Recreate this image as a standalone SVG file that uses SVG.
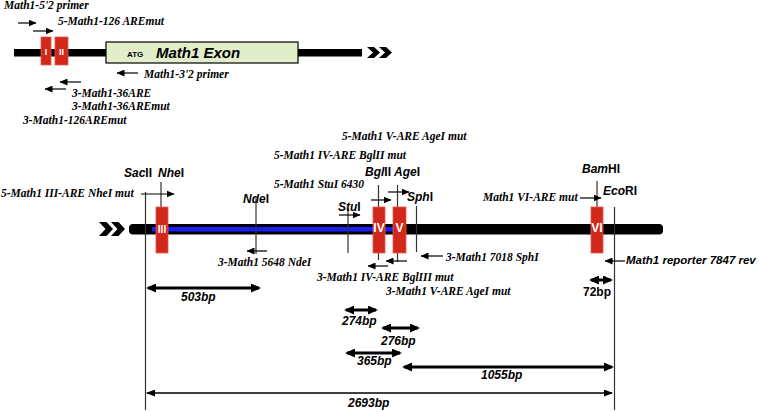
<svg xmlns="http://www.w3.org/2000/svg" width="759" height="412" viewBox="0 0 759 412">
<style>
.pt{font-family:"Liberation Serif","Times New Roman",serif;font-weight:bold;font-style:italic;font-size:11.5px;fill:#000}
.re{font-family:"Liberation Sans",Arial,sans-serif;font-weight:bold;font-size:12px;fill:#000}
.it{font-style:italic}
.bp{font-family:"Liberation Sans",Arial,sans-serif;font-weight:bold;font-style:italic;font-size:12px;fill:#000}
.bx{fill:#d2281c;stroke:#e45a4e;stroke-width:0.8}
.bl{font-family:"Liberation Sans",Arial,sans-serif;font-weight:bold;fill:#fff;text-anchor:middle}
.pr{stroke:#000;stroke-width:1.2;fill:none;marker-end:url(#ah)}
.vl{stroke:#333;stroke-width:1.2}
.sz{stroke:#000;stroke-width:3;marker-start:url(#bh);marker-end:url(#bh)}
.tn{stroke:#000;stroke-width:1.4;marker-start:url(#th);marker-end:url(#th)}
</style>
<defs>
<marker id="ah" viewBox="0 0 8 7" refX="7.5" refY="3.5" markerWidth="8" markerHeight="7" markerUnits="userSpaceOnUse" orient="auto"><path d="M0,0L8,3.5L0,7z" fill="#000"/></marker>
<marker id="bh" viewBox="0 0 10 9" refX="8" refY="4.5" markerWidth="10" markerHeight="9" markerUnits="userSpaceOnUse" orient="auto-start-reverse"><path d="M0,0L10,4.5L0,9z" fill="#000"/></marker>
<marker id="th" viewBox="0 0 9 7" refX="8" refY="3.5" markerWidth="9" markerHeight="7" markerUnits="userSpaceOnUse" orient="auto-start-reverse"><path d="M0,0L9,3.5L0,7z" fill="#000"/></marker>
<path id="chev" d="M0,0H7L13,5.5L7,11H0L6,5.5Z" fill="#000"/>
</defs>

<g id="top-backbone">
<rect x="14" y="49" width="348" height="7.5" fill="#000"/>
<use href="#chev" x="367" y="47"/>
<use href="#chev" x="379" y="47"/>
</g>
<g id="exon">
<rect x="106" y="42" width="192" height="21" fill="#e2edca" stroke="#000" stroke-width="1.2"/>
<text x="127" y="57" style="font-family:'Liberation Sans',Arial,sans-serif;font-weight:bold;font-size:8px">ATG</text>
<text x="156" y="58" style="font-family:'Liberation Sans',Arial,sans-serif;font-weight:bold;font-style:italic;font-size:15px">Math1 Exon</text>
</g>
<g id="are-I"><rect class="bx" x="41" y="37" width="10" height="28"/><text class="bl" x="46" y="55" font-size="9">I</text></g>
<g id="are-II"><rect class="bx" x="55" y="37" width="13" height="28"/><text class="bl" x="61.5" y="55" font-size="9">II</text></g>

<g id="top-primers">
<text class="pt" x="4" y="9">Math1-5'2 primer</text>
<text class="pt" x="58" y="25">5-Math1-126 AREmut</text>
<text class="pt" x="144" y="78">Math1-3'2 primer</text>
<text class="pt" x="72" y="97">3-Math1-36ARE</text>
<text class="pt" x="72" y="110">3-Math1-36AREmut</text>
<text class="pt" x="23" y="124">3-Math1-126AREmut</text>
</g>

<g id="main-backbone">
<path d="M99,222H106.5L113,229L106.5,236H99L105.5,229Z" fill="#000"/>
<path d="M111,222H118.5L125,229L118.5,236H111L117.5,229Z" fill="#000"/>
<rect x="129" y="224" width="534" height="10.5" rx="4" fill="#000"/>
<rect x="152" y="227" width="241" height="4.5" fill="#1c1cf5"/>
</g>

<g id="connectors">
<line class="pr" x1="18" y1="23" x2="36" y2="23"/>
<line class="pr" x1="33" y1="31" x2="53" y2="31"/>
<line class="pr" x1="138" y1="73" x2="117" y2="73"/>
<line class="pr" x1="81" y1="82" x2="60" y2="82"/>
<line class="pr" x1="66" y1="89" x2="45" y2="89"/>
<line class="vl" x1="145.5" y1="192" x2="145.5" y2="410"/>
<line class="vl" x1="161" y1="182" x2="161" y2="208"/>
<line class="vl" x1="256" y1="198" x2="256" y2="254"/>
<line class="vl" x1="348" y1="208" x2="348" y2="253"/>
<line class="vl" x1="378.5" y1="185" x2="378.5" y2="260"/>
<line class="vl" x1="397.5" y1="185" x2="397.5" y2="262"/>
<line class="vl" x1="416.5" y1="206" x2="416.5" y2="252"/>
<line class="vl" x1="597" y1="181" x2="597" y2="208"/>
<line class="vl" x1="614.5" y1="207" x2="614.5" y2="410" stroke="#000"/>
<line class="pr" x1="141" y1="194" x2="174" y2="194"/>
<line class="pr" x1="267" y1="251" x2="247" y2="251"/>
<line class="pr" x1="339" y1="215" x2="360" y2="215"/>
<line class="pr" x1="371" y1="200" x2="391" y2="200"/>
<line class="pr" x1="388" y1="192" x2="409" y2="192"/>
<line class="pr" x1="388" y1="266" x2="368" y2="266"/>
<line class="pr" x1="407" y1="261" x2="386" y2="261"/>
<line class="pr" x1="443" y1="256" x2="421" y2="256"/>
<line class="pr" x1="580" y1="198" x2="601" y2="198"/>
<line class="pr" x1="625" y1="261" x2="605" y2="261"/>
<line class="sz" x1="148" y1="288" x2="259" y2="288"/>
<line class="sz" x1="591" y1="280" x2="611" y2="280"/>
<line class="sz" x1="346" y1="310" x2="376" y2="310"/>
<line class="sz" x1="383" y1="328" x2="418" y2="328"/>
<line class="sz" x1="347" y1="353" x2="400" y2="353"/>
<line class="sz" x1="404" y1="367" x2="612" y2="367"/>
<line class="tn" x1="147" y1="393" x2="612" y2="393"/>
</g>

<g id="are-III"><rect class="bx" x="156" y="207" width="12" height="46"/><text class="bl" x="162" y="233" font-size="10">III</text></g>
<g id="are-IV"><rect class="bx" x="373" y="207" width="12" height="46"/><text class="bl" x="379" y="232" font-size="12">IV</text></g>
<g id="are-V"><rect class="bx" x="393" y="207" width="13" height="46"/><text class="bl" x="399.5" y="232" font-size="12">V</text></g>
<g id="are-VI"><rect class="bx" x="591" y="207" width="12" height="46"/><text class="bl" x="597" y="232" font-size="12">VI</text></g>

<g id="sites">
<text class="re" x="124" y="177"><tspan class="it">Sac</tspan>II</text>
<text class="re" x="158" y="177"><tspan class="it">Nhe</tspan>I</text>
<text class="re" x="243" y="203"><tspan class="it">Nde</tspan>I</text>
<text class="re" x="338" y="211"><tspan class="it">Stu</tspan>I</text>
<text class="re" x="365" y="176"><tspan class="it">Bgl</tspan>II</text>
<text class="re" x="394" y="176"><tspan class="it">Age</tspan>I</text>
<text class="re" x="407" y="201"><tspan class="it">Sph</tspan>I</text>
<text class="re" x="582" y="173"><tspan class="it">Bam</tspan>HI</text>
<text class="re" x="603" y="195"><tspan class="it">Eco</tspan>RI</text>
</g>

<g id="main-primers">
<text class="pt" x="342" y="140">5-Math1 V-ARE AgeI mut</text>
<text class="pt" x="274" y="159">5-Math1 IV-ARE BglII mut</text>
<text class="pt" x="274" y="188">5-Math1 StuI 6430</text>
<text class="pt" x="1" y="197">5-Math1 III-ARE NheI mut</text>
<text class="pt" x="218" y="266">3-Math1 5648 NdeI</text>
<text class="pt" x="317" y="281">3-Math1 IV-ARE BglIII mut</text>
<text class="pt" x="386" y="295">3-Math1 V-ARE AgeI mut</text>
<text class="pt" x="446" y="261">3-Math1 7018 SphI</text>
<text class="pt" x="483" y="201">Math1 VI-ARE mut</text>
<text x="626" y="264" style="font-family:'Liberation Sans',Arial,sans-serif;font-weight:bold;font-style:italic;font-size:11.5px">Math1 reporter 7847 rev</text>
</g>

<g id="sizes">
<text class="bp" x="181" y="301">503bp</text>
<text class="bp" x="583" y="296" style="font-style:normal">72bp</text>
<text class="bp" x="342" y="325">274bp</text>
<text class="bp" x="381" y="345">276bp</text>
<text class="bp" x="357" y="365">365bp</text>
<text class="bp" x="481" y="379">1055bp</text>
<text class="bp" x="348" y="407">2693bp</text>
</g>
</svg>
